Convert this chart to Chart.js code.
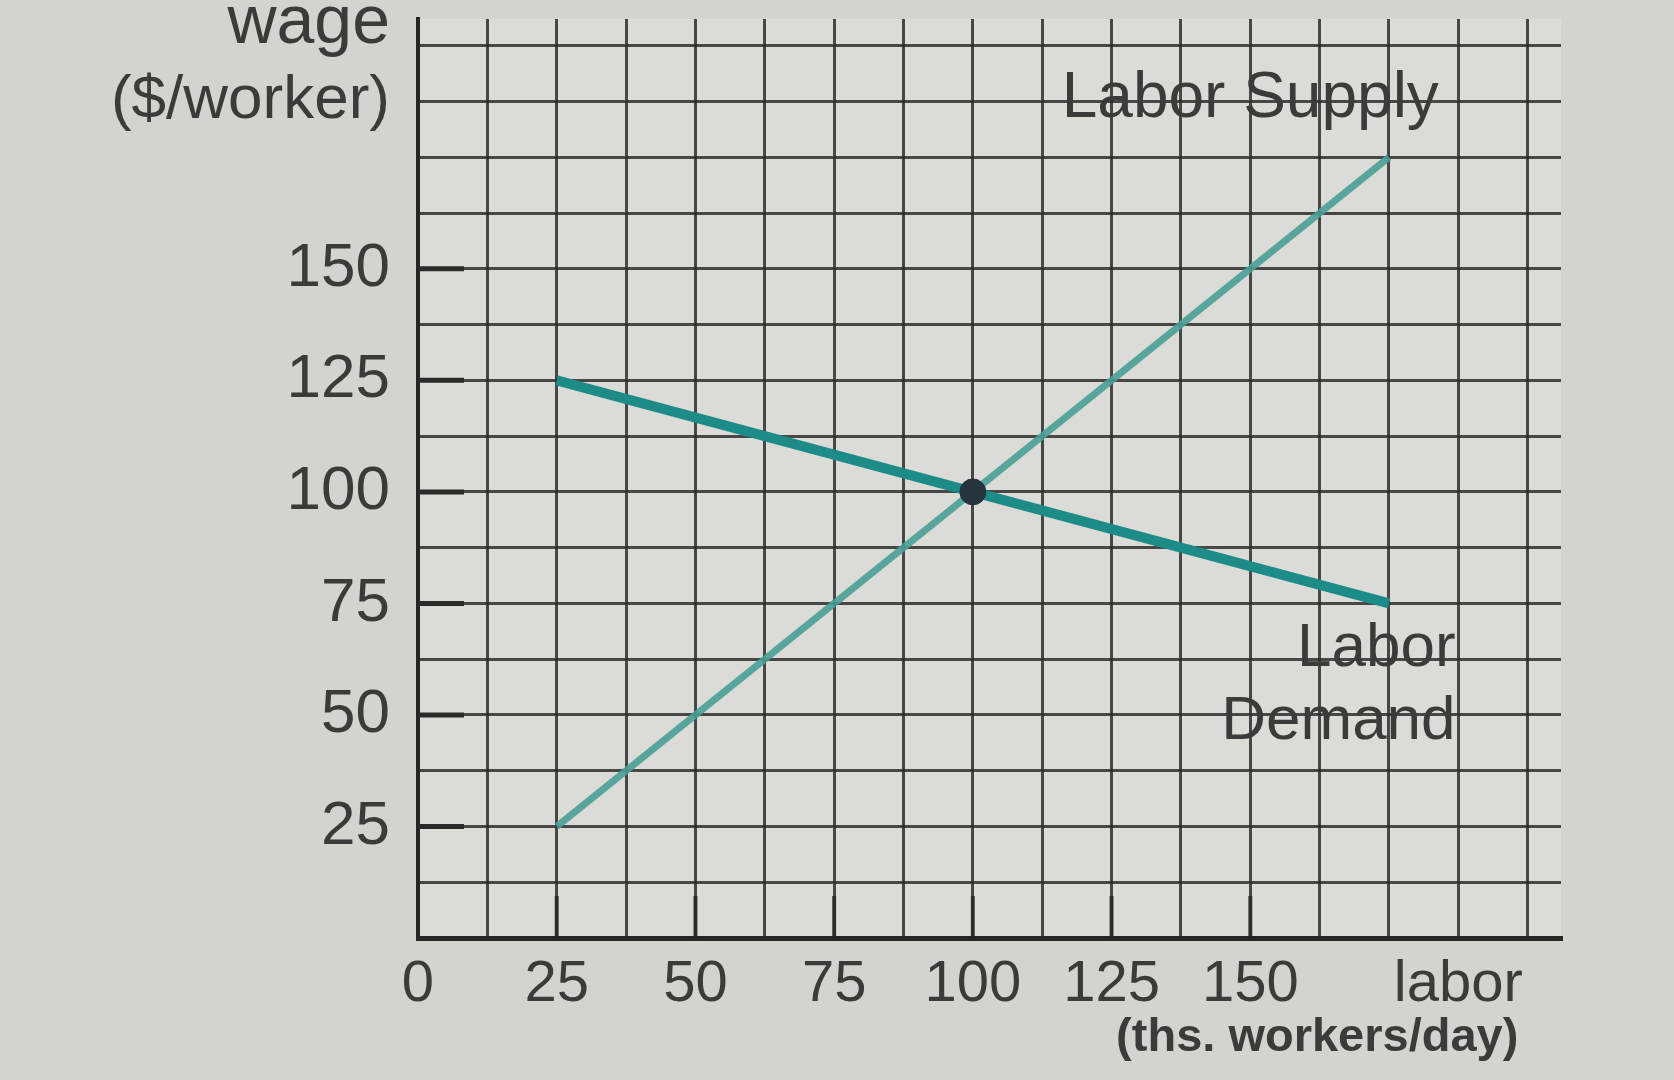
<!DOCTYPE html>
<html>
<head>
<meta charset="utf-8">
<script src="https://cdn.jsdelivr.net/npm/chart.js@4.4.1/dist/chart.umd.min.js"></script>
<style>
  html, body { margin: 0; padding: 0; background: #d3d3cf; }
  #wrap { width: 1674px; height: 1080px; }
</style>
</head>
<body>
<div id="wrap"><canvas id="c" width="1674" height="1080"></canvas></div>
<script>
// ---- data ----
const demandQty = [25, 175];
const demandWage = [125, 75];
const supplyQty = [25, 175];
const supplyWage = [25, 175];
const equilibriumQty = [100];
const equilibriumWage = [100];

const xGridValues = [0, 12.5, 25, 37.5, 50, 62.5, 75, 87.5, 100, 112.5, 125, 137.5, 150, 162.5, 175, 187.5, 200];
const yGridValues = [0, 12.5, 25, 37.5, 50, 62.5, 75, 87.5, 100, 112.5, 125, 137.5, 150, 162.5, 175, 187.5, 200];
const xTickValues = [0, 25, 50, 75, 100, 125, 150, 187.5];
const xTickLabels = ['0', '25', '50', '75', '100', '125', '150', 'labor'];
const yTickValues = [25, 50, 75, 100, 125, 150];
const yTickLabels = ['25', '50', '75', '100', '125', '150'];

const yTitle = ['wage', '($/worker)'];
const xSubTitle = '(ths. workers/day)';
const curveLabels = [
  { text: 'Labor Supply', x: 150, y: 184, align: 'center', size: 64 },
  { text: 'Labor', x: 187, y: 61, align: 'right', size: 62 },
  { text: 'Demand', x: 187, y: 44.5, align: 'right', size: 62 }
];

const toPts = (xs, ys) => xs.map((x, i) => ({ x: x, y: ys[i] }));

const FONT = '"Liberation Sans", Arial, Helvetica, sans-serif';
const TEXT = '#3b3b3b';

const decorPlugin = {
  id: 'decor',
  beforeDraw(chart) {
    const { ctx, chartArea: a } = chart;
    ctx.save();
    ctx.fillStyle = '#d3d3cf';
    ctx.fillRect(0, 0, chart.width, chart.height);
    ctx.fillStyle = '#dbdbd7';
    ctx.fillRect(a.left, a.top, a.right - a.left, a.bottom - a.top);
    ctx.restore();
  },
  beforeDatasetsDraw(chart) {
    const { ctx, scales: { x, y }, chartArea: a } = chart;
    ctx.save();
    ctx.strokeStyle = '#2a2a2a';
    ctx.lineWidth = 5;
    yTickValues.forEach(v => {
      const py = y.getPixelForValue(v);
      ctx.beginPath(); ctx.moveTo(a.left, py); ctx.lineTo(a.left + 46, py); ctx.stroke();
    });
    ctx.lineWidth = 4;
    ctx.strokeStyle = 'rgba(35,35,35,0.8)';
    xTickValues.slice(1, 7).forEach(v => {
      const px = x.getPixelForValue(v);
      ctx.beginPath(); ctx.moveTo(px, a.bottom); ctx.lineTo(px, a.bottom - 42); ctx.stroke();
    });
    ctx.restore();
  },
  afterDatasetsDraw(chart) {
    const { ctx, scales: { x, y }, chartArea: a } = chart;
    ctx.save();
    ctx.fillStyle = TEXT;
    ctx.textBaseline = 'alphabetic';
    curveLabels.forEach(l => {
      ctx.font = l.size + 'px ' + FONT;
      ctx.textAlign = l.align;
      ctx.fillText(l.text, x.getPixelForValue(l.x), y.getPixelForValue(l.y));
    });
    // y axis title
    ctx.textAlign = 'right';
    ctx.font = '68px ' + FONT;
    ctx.fillText(yTitle[0], a.left - 28, 43);
    ctx.font = '62px ' + FONT;
    ctx.fillText(yTitle[1], a.left - 28, 118);
    // x sub title
    ctx.font = 'bold 47px ' + FONT;
    ctx.textAlign = 'right';
    ctx.textBaseline = 'middle';
    ctx.fillText(xSubTitle, x.getPixelForValue(187.5) + 60, 1038);
    ctx.restore();
  }
};

new Chart(document.getElementById('c'), {
  type: 'scatter',
  data: {
    datasets: [
      {
        label: 'Equilibrium',
        data: toPts(equilibriumQty, equilibriumWage),
        pointRadius: 13,
        pointBackgroundColor: '#26343d',
        pointBorderColor: '#26343d',
        showLine: false
      },
      {
        label: 'Labor Demand',
        data: toPts(demandQty, demandWage),
        showLine: true,
        borderColor: '#1d8b88',
        borderWidth: 10,
        pointRadius: 0,
        fill: false
      },
      {
        label: 'Labor Supply',
        data: toPts(supplyQty, supplyWage),
        showLine: true,
        borderColor: 'rgba(72,158,150,0.9)',
        borderWidth: 7,
        pointRadius: 0,
        fill: false
      }
    ]
  },
  options: {
    responsive: false,
    animation: false,
    devicePixelRatio: 1,
    layout: { padding: { top: 19, right: 113, left: 0, bottom: 0 } },
    plugins: { legend: { display: false }, tooltip: { enabled: false } },
    scales: {
      x: {
        type: 'linear',
        min: 0,
        max: 206,
        afterBuildTicks(s) { s.ticks = xGridValues.map(v => ({ value: v })); },
        afterFit(s) { s.height = 142; s.paddingLeft = 0; s.paddingRight = 0; },
        grid: { color: 'rgba(45,45,45,0.85)', lineWidth: 3, drawTicks: false },
        border: { display: true, color: '#262626', width: 5 },
        ticks: {
          autoSkip: false,
          maxRotation: 0,
          padding: 12,
          color: TEXT,
          font: { family: FONT, size: 58 },
          callback(v) {
            const i = xTickValues.indexOf(v);
            return i >= 0 ? xTickLabels[i] : '';
          }
        }
      },
      y: {
        type: 'linear',
        min: 0,
        max: 206,
        afterBuildTicks(s) { s.ticks = yGridValues.map(v => ({ value: v })); },
        afterFit(s) { s.width = 418; s.paddingTop = 0; s.paddingBottom = 0; },
        grid: { color: 'rgba(45,45,45,0.85)', lineWidth: 3, drawTicks: false },
        border: { display: true, color: '#262626', width: 4 },
        ticks: {
          autoSkip: false,
          padding: 28,
          color: TEXT,
          font: { family: FONT, size: 62 },
          callback(v) {
            const i = yTickValues.indexOf(v);
            return i >= 0 ? yTickLabels[i] : '';
          }
        }
      }
    }
  },
  plugins: [decorPlugin]
});
</script>
</body>
</html>
